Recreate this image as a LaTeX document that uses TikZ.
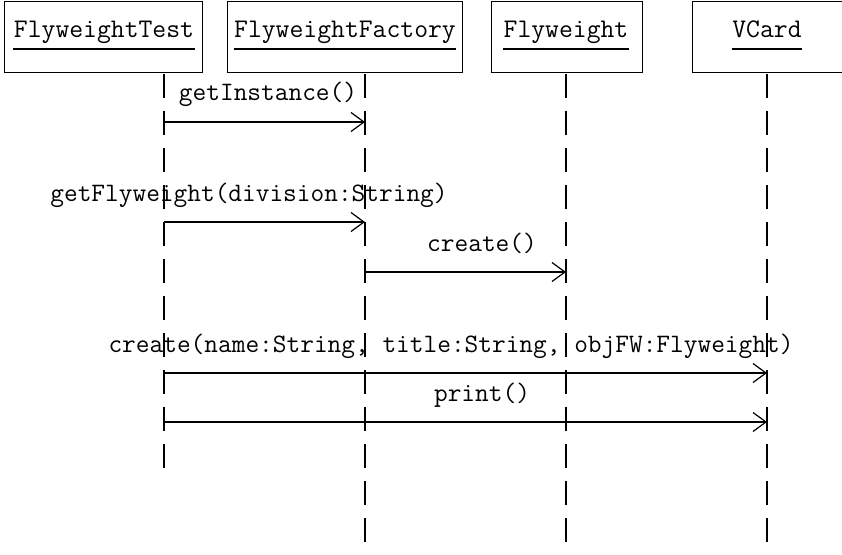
\documentclass[tikz,border=0pt]{standalone}
\usetikzlibrary{arrows.meta}
\begin{document}
\begin{tikzpicture}[x=1pt,y=-1pt,line width=1.2pt,
  headbox/.style={draw,rectangle,inner sep=0pt,anchor=north west},
  headtext/.style={font=\ttfamily\fontsize{26.9}{30}\selectfont,inner sep=0pt,anchor=base},
  msgtext/.style={font=\ttfamily\fontsize{26.6}{30}\selectfont,inner sep=0pt,anchor=base},
  lifeline/.style={line width=1.3pt,dash pattern=on 24pt off 13pt},
  msg/.style={line width=1.2pt,-{Straight Barb[length=13pt,width=19pt,line width=1.2pt]}}
]
\useasboundingbox (0,0) rectangle (842,554);
% header boxes
\node[headbox,minimum width=198pt,minimum height=71pt] (b1) at (4,1) {};
\node[headbox,minimum width=235pt,minimum height=71pt] (b2) at (227,1) {};
\node[headbox,minimum width=151pt,minimum height=71pt] (b3) at (491,1) {};
\node[headbox,minimum width=160pt,minimum height=71pt] (b4) at (692,1) {};
% header texts
\node[headtext] (t1) at (104,37) {FlyweightTest};
\node[headtext] (t2) at (345,37) {FlyweightFactory};
\node[headtext] (t3) at (566,37) {Flyweight};
\node[headtext] (t4) at (767,37) {VCard};
\foreach \t in {t1,t2,t3,t4}{
  \draw[line width=1.2pt] (\t.base west) ++(0,12) coordinate (\t ul) -- (\t.base east |- \t ul);
}
% lifelines
\coordinate (l1top) at (164,74);  \coordinate (l1bot) at (164,478);
\coordinate (l2top) at (365,74);  \coordinate (l2bot) at (365,554);
\coordinate (l3top) at (566,74);  \coordinate (l3bot) at (566,554);
\coordinate (l4top) at (767,74);  \coordinate (l4bot) at (767,554);
\draw[lifeline] (l1top) -- (l1bot);
\draw[lifeline] (l2top) -- (l2bot);
\draw[lifeline] (l3top) -- (l3bot);
\draw[lifeline] (l4top) -- (l4bot);
% message end points
\coordinate (m1a) at (164,122); \coordinate (m1b) at (365,122);
\coordinate (m2a) at (164,222); \coordinate (m2b) at (365,222);
\coordinate (m3a) at (365,272); \coordinate (m3b) at (566,272);
\coordinate (m4a) at (164,373); \coordinate (m4b) at (767,373);
\coordinate (m5a) at (164,422); \coordinate (m5b) at (767,422);
\draw[msg] (m1a) -- (m1b);
\draw[msg] (m2a) -- (m2b);
\draw[msg] (m3a) -- (m3b);
\draw[msg] (m4a) -- (m4b);
\draw[msg] (m5a) -- (m5b);
% labels
\node[msgtext] (lab1) at (268,100) {getInstance()};
\node[msgtext] (lab2) at (249,201) {getFlyweight(division:String)};
\node[msgtext] (lab3) at (482,251) {create()};
\node[msgtext] (lab4) at (451,352) {create(name:String, title:String, objFW:Flyweight)};
\node[msgtext] (lab5) at (482,401) {print()};
\end{tikzpicture}
\end{document}
